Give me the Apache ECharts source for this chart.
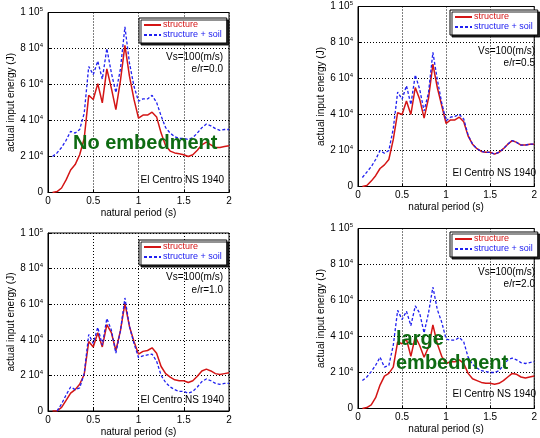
<!DOCTYPE html>
<html>
<head>
<meta charset="utf-8">
<script src="https://cdn.jsdelivr.net/npm/echarts@6/dist/echarts.min.js"></script>
<style>
html,body{margin:0;padding:0;background:#fff;}
#chart{width:540px;height:438px;}
</style>
</head>
<body>
<div id="chart"></div>
<script>
// natural period (s)
const periods = [0.05,0.10,0.15,0.20,0.25,0.30,0.35,0.40,0.45,0.50,
                 0.55,0.60,0.65,0.70,0.75,0.80,0.85,0.90,0.95,1.00,
                 1.05,1.10,1.15,1.20,1.25,1.30,1.35,1.40,1.45,1.50,
                 1.55,1.60,1.65,1.70,1.75,1.80,1.85,1.90,1.95,2.00];

// actual input energy, units of 10^4 J
// e/r = 0.0
const struct_er00 = [0.0,0.05,0.25,0.7,1.25,1.55,2.1,3.0,5.4,5.17,
                     6.05,4.98,6.87,5.8,4.6,6.2,8.17,6.46,5.17,4.13,
                     4.3,4.3,4.46,4.2,3.3,2.6,2.3,2.2,2.15,2.1,
                     2.0,2.1,2.35,2.65,2.8,2.65,2.5,2.5,2.55,2.6];
const soil_er00   = [2.0,2.2,2.5,2.9,3.4,3.3,3.5,4.4,7.0,6.55,
                     7.3,6.3,8.0,6.65,5.55,6.85,9.2,7.2,5.9,5.07,
                     5.2,5.2,5.4,5.0,4.25,3.6,3.3,3.1,3.0,3.0,
                     2.95,3.05,3.3,3.6,3.8,3.7,3.55,3.45,3.5,3.5];
// e/r = 0.5
const struct_er05 = [0.0,0.05,0.3,0.6,1.0,1.2,1.5,2.6,4.1,4.0,
                     4.75,4.0,5.5,4.85,3.8,4.9,6.8,5.5,4.5,3.5,
                     3.7,3.7,3.85,3.6,2.8,2.35,2.1,1.95,1.9,1.9,
                     1.8,1.9,2.1,2.35,2.55,2.45,2.3,2.3,2.35,2.35];
const soil_er05   = [0.5,0.8,1.1,1.5,2.0,1.85,2.0,3.2,5.25,4.85,
                     5.6,4.55,6.2,5.4,4.2,5.2,7.45,5.95,4.65,3.65,
                     3.85,3.9,4.0,3.75,2.85,2.35,2.1,1.95,1.9,1.9,
                     1.8,1.9,2.1,2.35,2.55,2.45,2.3,2.3,2.35,2.35];
// e/r = 1.0
const struct_er10 = [0.0,0.0,0.2,0.6,1.0,1.2,1.5,2.05,3.9,3.6,
                     4.4,3.6,4.85,4.4,3.4,4.5,6.05,4.75,3.9,3.2,
                     3.35,3.4,3.55,3.25,2.5,2.1,1.9,1.75,1.7,1.7,
                     1.6,1.7,1.95,2.25,2.35,2.25,2.1,2.05,2.1,2.15];
const soil_er10   = [null,0.0,0.4,0.9,1.35,1.2,1.3,2.1,4.3,3.8,
                     4.7,3.7,5.2,4.55,3.25,4.5,6.35,4.75,3.8,3.0,
                     3.1,3.15,3.2,2.8,2.0,1.6,1.35,1.2,1.1,1.1,
                     1.0,1.1,1.35,1.65,1.8,1.7,1.55,1.5,1.55,1.55];
// e/r = 2.0
const struct_er20 = [0.0,0.05,0.2,0.6,1.3,1.8,1.95,2.3,3.7,3.6,
                     3.85,2.9,4.0,3.5,2.85,3.4,4.65,3.6,2.9,2.5,
                     2.6,2.6,2.7,2.5,1.95,1.65,1.55,1.45,1.4,1.4,
                     1.35,1.4,1.55,1.75,1.95,1.9,1.75,1.7,1.75,1.8];
const soil_er20   = [1.55,1.75,2.05,2.4,2.85,2.3,2.4,3.5,5.45,4.95,
                     5.4,4.6,5.7,5.3,4.2,5.3,6.75,5.5,4.8,3.85,
                     3.8,3.8,3.95,3.7,2.85,2.45,2.25,2.1,2.05,2.0,
                     2.0,2.1,2.4,2.7,2.8,2.7,2.55,2.5,2.55,2.6];

const xTicks = [0, 0.5, 1, 1.5, 2];
const yTicks = [0, 2, 4, 6, 8, 10];
const ratioLabels = ['e/r=0.0','e/r=0.5','e/r=1.0','e/r=2.0'];
const vsLabel = 'Vs=100(m/s)';
const quakeLabel = 'El Centro NS 1940';
const nameStruct = 'structure';
const nameSoil = 'structure + soil';

const structSets = [struct_er00, struct_er05, struct_er10, struct_er20];
const soilSets = [soil_er00, soil_er05, soil_er10, soil_er20];

const FONT = 'Liberation Sans, Arial, Helvetica, sans-serif';
const RED = '#d41515';
const BLUE = '#2020f0';

// layout of the four panels (pixels)
const panels = [
  {left: 48,  top: 12.5,  w: 181, h: 180},
  {left: 358, top: 6.5,   w: 181, h: 180},
  {left: 48,  top: 233,   w: 181, h: 180},
  {left: 358, top: 228.5, w: 181, h: 180}
];

function pairs(arr){ return periods.map((p,i)=>[p, arr[i]]); }

const grids = [], xAxes = [], yAxes = [], series = [], legends = [], graphics = [];

panels.forEach((p, k) => {
  grids.push({left: p.left, top: p.top, width: p.w, height: p.h,
    show: true, borderColor: '#000', borderWidth: 1, backgroundColor: 'transparent', containLabel: false});
  xAxes.push({
    type: 'value', gridIndex: k, min: 0, max: 2, interval: 0.5,
    name: 'natural period (s)', nameLocation: 'middle', nameGap: 16,
    nameTextStyle: {fontFamily: FONT, fontSize: 10, color: '#000'},
    axisLine: {show: true, onZero: false, lineStyle: {color: '#000', width: 1}},
    axisTick: {show: true, inside: true, length: 3, lineStyle: {color: '#000'}},
    axisLabel: {fontFamily: FONT, fontSize: 10, color: '#000', margin: 4,
      formatter: v => xTicks.includes(v) ? String(v) : ''},
    splitLine: {show: true, lineStyle: {color: '#000', width: 1, type: [1, 2]}}
  });
  yAxes.push({
    type: 'value', gridIndex: k, min: 0, max: 10, interval: 2,
    name: 'actual input energy (J)', nameLocation: 'middle', nameGap: 23,
    nameTextStyle: {fontFamily: FONT, fontSize: 10, color: '#000'},
    axisLine: {show: true, onZero: false, lineStyle: {color: '#000', width: 1}},
    axisTick: {show: true, inside: true, length: 3, lineStyle: {color: '#000'}},
    axisLabel: {fontFamily: FONT, fontSize: 10, color: '#000', margin: 5,
      formatter: v => {
        if (!yTicks.includes(v)) return '';
        if (v === 0) return '{b|0}';
        if (v === 10) return '{b|1 10}{s|5}';
        return '{b|' + v + ' 10}{s|4}';
      },
      rich: {
        b: {fontFamily: FONT, fontSize: 10, color: '#000', lineHeight: 12},
        s: {fontFamily: FONT, fontSize: 6, color: '#000', verticalAlign: 'top', lineHeight: 8}
      }},
    splitLine: {show: true, lineStyle: {color: '#000', width: 1, type: [1, 2]}}
  });
  series.push({
    name: nameStruct, type: 'line', xAxisIndex: k, yAxisIndex: k,
    data: pairs(structSets[k]), showSymbol: false, symbol: 'none', connectNulls: false,
    lineStyle: {color: RED, width: 1.5}, itemStyle: {color: RED}, z: 3
  });
  series.push({
    name: nameSoil, type: 'line', xAxisIndex: k, yAxisIndex: k,
    data: pairs(soilSets[k]), showSymbol: false, symbol: 'none',
    lineStyle: {color: BLUE, width: 1.3, type: [3, 2]}, itemStyle: {color: BLUE}, z: 4
  });
});

// legends
const legendPos = [
  {left: 139, top: 18},
  {left: 450, top: 10},
  {left: 139, top: 240},
  {left: 450, top: 232}
];
legendPos.forEach(lp => {
  legends.push({
    left: lp.left, top: lp.top, orient: 'vertical', selectedMode: false,
    backgroundColor: '#fff', borderColor: '#000', borderWidth: 1, borderRadius: 0,
    shadowColor: 'rgba(0,0,0,0.85)', shadowBlur: 0, shadowOffsetX: 2, shadowOffsetY: 2,
    padding: [2, 5, 3, 4], itemGap: 0, itemWidth: 17, itemHeight: 8,
    itemStyle: {opacity: 0, borderWidth: 0},
    textStyle: {fontFamily: FONT, fontSize: 9, lineHeight: 10, padding: [0, 0, 0, -3]},
    data: [
      {name: nameStruct, textStyle: {color: RED}},
      {name: nameSoil, textStyle: {color: BLUE}}
    ]
  });
});

// annotation texts
const textPos = [
  {rx: 223, vsY: 57, erY: 69, qY: 180},
  {rx: 535, vsY: 51.5, erY: 63, qY: 173.5},
  {rx: 223, vsY: 277.5, erY: 290.5, qY: 400},
  {rx: 535, vsY: 272, erY: 284.5, qY: 394}
];
function txt(s, x, y, align, extra){
  return Object.assign({type: 'text', z: 100, style: Object.assign({
    text: s, x: x, y: y, align: align, textAlign: align, verticalAlign: 'middle', textVerticalAlign: 'middle',
    font: '10px ' + FONT, fill: '#000'}, extra || {})});
}
textPos.forEach((t, k) => {
  graphics.push(txt(vsLabel, t.rx, t.vsY, 'right'));
  graphics.push(txt(ratioLabels[k], t.rx, t.erY, 'right'));
  graphics.push(txt(quakeLabel, t.rx + 1, t.qY, 'right'));
});
const GREEN = '#0e6b12';
graphics.push(txt('No embedment', 73, 143.5, 'left', {font: 'bold 20px ' + FONT, fill: GREEN}));
graphics.push(txt('large', 396, 339, 'left', {font: 'bold 20px ' + FONT, fill: GREEN}));
graphics.push(txt('embedment', 396, 363, 'left', {font: 'bold 20px ' + FONT, fill: GREEN}));

const chart = echarts.init(document.getElementById('chart'), null, {renderer: 'canvas'});
chart.setOption({
  animation: false,
  backgroundColor: '#fff',
  grid: grids, xAxis: xAxes, yAxis: yAxes, series: series,
  legend: legends, graphic: graphics
});
</script>
</body>
</html>
